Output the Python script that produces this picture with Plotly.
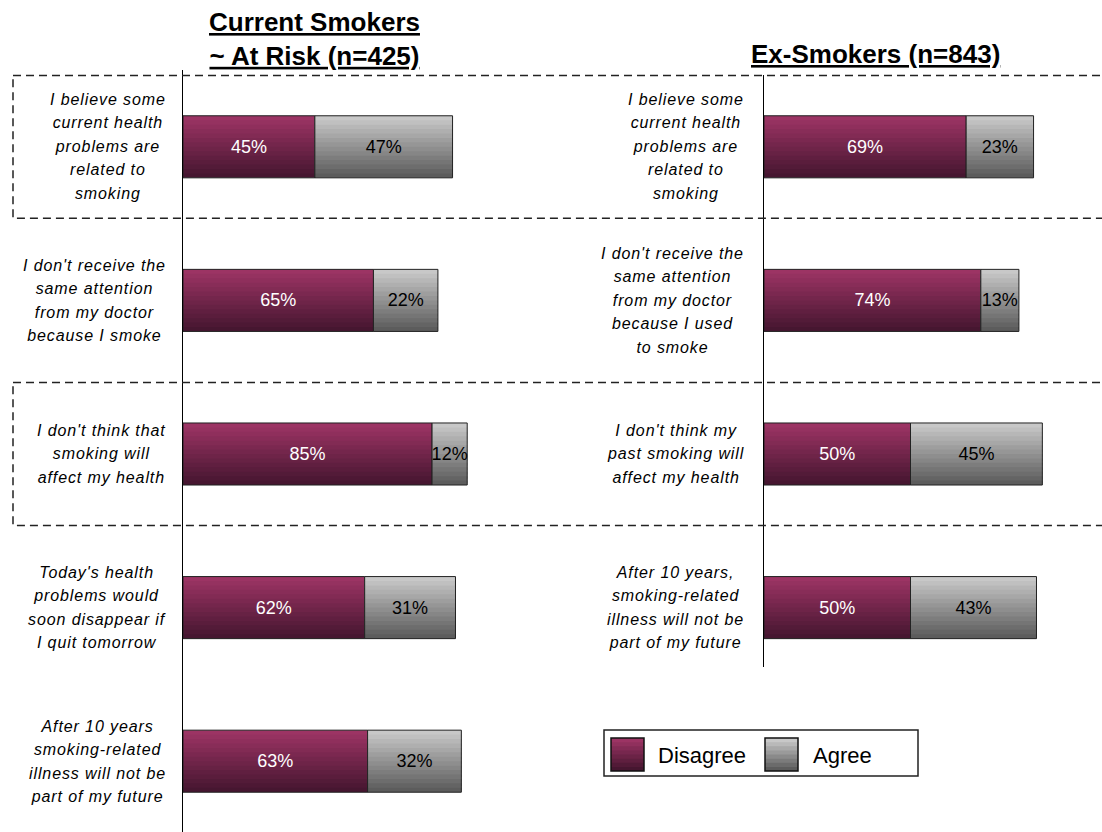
import plotly.graph_objects as go

# data
left_labels = [
    "I believe some<br>current health<br>problems are<br>related to<br>smoking",
    "I don't receive the<br>same attention<br>from my doctor<br>because I smoke",
    "I don't think that<br>smoking will<br>affect my health",
    "Today's health<br>problems would<br>soon disappear if<br>I quit tomorrow",
    "After 10 years<br>smoking-related<br>illness will not be<br>part of my future",
]
left_disagree = [45, 65, 85, 62, 63]
left_agree = [47, 22, 12, 31, 32]

right_labels = [
    "I believe some<br>current health<br>problems are<br>related to<br>smoking",
    "I don't receive the<br>same attention<br>from my doctor<br>because I used<br>to smoke",
    "I don't think my<br>past smoking will<br>affect my health",
    "After 10 years,<br>smoking-related<br>illness will not be<br>part of my future",
]
right_disagree = [69, 74, 50, 50]
right_agree = [23, 13, 45, 43]

left_title = "Current Smokers<br>~ At Risk (n=425)"
right_title = "Ex-Smokers (n=843)"
series_names = ["Disagree", "Agree"]
highlight_rows = [0, 2]

W, H = 1102, 832
FONT = "Liberation Sans, Arial, sans-serif"
BAR_H = 0.404
N_STRIPS = 14
MAROON = ((156, 52, 100), (70, 22, 48))
GRAY = ((200, 200, 200), (92, 92, 92))

# left y axis: rows from 70px to the bottom edge
Y_TOP_PX = 70
ROW_PX = 153.6
y_range = [(H - Y_TOP_PX) / ROW_PX - 0.5, -0.5]


def px(x):
    return x / W


def py(y):
    return 1 - y / H


def row_py(r):
    return py(Y_TOP_PX + (r + 0.5) * ROW_PX)


def mix(c, t):
    a, b = c
    return "rgb(%d,%d,%d)" % tuple(round(a[i] + (b[i] - a[i]) * t) for i in range(3))


def add_panel(fig, disagree, agree, xa, ya):
    rows = list(range(len(disagree)))
    for vals, base, grad, tcol in [
        (disagree, [0] * len(disagree), MAROON, "white"),
        (agree, disagree, GRAY, "black"),
    ]:
        step = BAR_H / N_STRIPS
        for k in range(N_STRIPS):
            off = -BAR_H / 2 + k * step
            wid = min(step * 1.6, BAR_H / 2 - off)
            fig.add_trace(go.Bar(
                orientation="h", x=vals, y=rows, base=base,
                offset=off, width=wid,
                marker=dict(color=mix(grad, k / (N_STRIPS - 1)), line=dict(width=0)),
                xaxis=xa, yaxis=ya, hoverinfo="skip", showlegend=False,
            ))
        fig.add_trace(go.Bar(
            orientation="h", x=vals, y=rows, base=base, width=BAR_H,
            marker=dict(color="rgba(0,0,0,0)", line=dict(color="#222", width=1)),
            text=[f"{v}%" for v in vals], textposition="inside", textangle=0,
            insidetextanchor="middle", constraintext="none",
            textfont=dict(family=FONT, size=18, color=tcol),
            xaxis=xa, yaxis=ya, hoverinfo="skip", showlegend=False,
        ))


fig = go.Figure()
add_panel(fig, left_disagree, left_agree, "x", "y")
add_panel(fig, right_disagree, right_agree, "x2", "y2")

annotations = []
for labels, right_edge in [(left_labels, 168), (right_labels, 746)]:
    for r, lbl in enumerate(labels):
        annotations.append(dict(
            xref="paper", x=px(right_edge), xanchor="right", yref="paper", y=row_py(r), yanchor="middle",
            text=f'<span style="font-size:16px;letter-spacing:0.9px">{lbl}</span>',
            align="center", showarrow=False, font=dict(family=FONT, size=18, color="black", style="italic"),
        ))

annotations.append(dict(
    xref="paper", x=px(314), xanchor="center", yref="paper", y=py(39), yanchor="middle",
    text=f"<b><u>{left_title}</u></b>", align="center", showarrow=False,
    font=dict(family=FONT, size=26, color="black"),
))
annotations.append(dict(
    xref="paper", x=px(875), xanchor="center", yref="paper", y=py(54), yanchor="middle",
    text=f"<b><u>{right_title}</u></b>", align="center", showarrow=False,
    font=dict(family=FONT, size=26, color="black"),
))

shapes = []
for r in highlight_rows:
    shapes.append(dict(
        type="rect", xref="paper", yref="paper",
        x0=px(13), x1=1.02, y0=row_py(r - 0.465), y1=row_py(r + 0.465),
        line=dict(color="#222", width=1.5, dash="8px,5px"),
    ))

# legend
shapes.append(dict(type="rect", xref="paper", yref="paper", x0=px(604), x1=px(918),
                   y0=py(730), y1=py(776), line=dict(color="#222", width=1.5)))
for name, grad, sx, tx in [(series_names[0], MAROON, 611, 656), (series_names[1], GRAY, 765, 811)]:
    n = 8
    for k in range(n):
        shapes.append(dict(type="rect", xref="paper", yref="paper", x0=px(sx), x1=px(sx + 33),
                           y0=py(738 + k * 33 / n), y1=py(min(738 + (k + 1.5) * 33 / n, 771)),
                           line=dict(width=0), fillcolor=mix(grad, k / (n - 1))))
    shapes.append(dict(type="rect", xref="paper", yref="paper", x0=px(sx), x1=px(sx + 33),
                       y0=py(738), y1=py(771), line=dict(color="#111", width=1.5)))
    annotations.append(dict(xref="paper", x=px(tx), xanchor="left", yref="paper", y=py(755),
                            yanchor="middle", text=name, showarrow=False,
                            font=dict(family=FONT, size=22, color="black")))

fig.update_layout(
    width=W, height=H, margin=dict(l=0, r=0, t=0, b=0),
    paper_bgcolor="white", plot_bgcolor="white",
    barmode="overlay", showlegend=False,
    font=dict(family=FONT),
    xaxis=dict(domain=[px(183), px(476)], range=[0, 100], visible=False, anchor="y"),
    yaxis=dict(domain=[0, py(Y_TOP_PX)], range=y_range, type="linear",
               showline=True, linecolor="black", linewidth=1.2,
               showticklabels=False, ticks="", showgrid=False, zeroline=False, anchor="x"),
    xaxis2=dict(domain=[px(764), px(1057)], range=[0, 100], visible=False, anchor="y2"),
    yaxis2=dict(domain=[py(667), py(75)],
                range=[(667 - Y_TOP_PX) / ROW_PX - 0.5, (75 - Y_TOP_PX) / ROW_PX - 0.5],
                type="linear", showline=True, linecolor="black", linewidth=1.2,
                showticklabels=False, ticks="", showgrid=False, zeroline=False, anchor="x2"),
    annotations=annotations, shapes=shapes,
)

fig.write_html("out.html", config={"displayModeBar": False},
               post_script="document.body.style.margin='0px';")
